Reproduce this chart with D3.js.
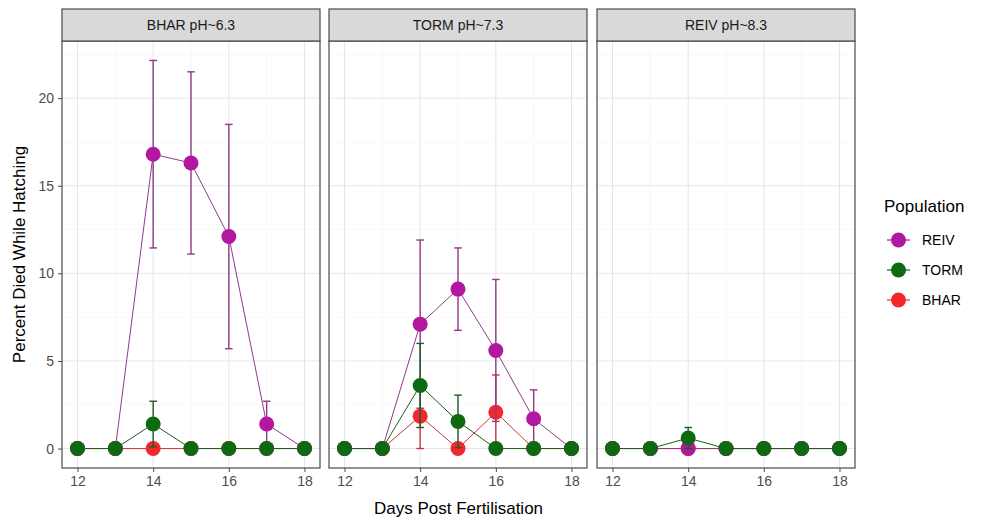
<!DOCTYPE html>
<html>
<head>
<meta charset="utf-8">
<script src="https://cdn.jsdelivr.net/npm/d3@7"></script>
<style>
  body { margin: 0; background: #fff; }
  text { font-family: "Liberation Sans", Arial, sans-serif; }
</style>
</head>
<body>
<div id="chart"></div>
<script>
let width = 983;
let height = 520;

// Facets and populations
let panels = ["BHAR pH~6.3", "TORM pH~7.3", "REIV pH~8.3"];
let populations = ["REIV", "TORM", "BHAR"];
let drawOrder = ["BHAR", "REIV", "TORM"];
let days = [12, 13, 14, 15, 16, 17, 18];

// Mean percent died while hatching, per panel, per population
let reivMean = [
    [0, 0, 16.8, 16.3, 12.1, 1.4, 0],
    [0, 0, 7.1, 9.1, 5.6, 1.7, 0],
    [0, 0, 0, 0, 0, 0, 0]
];
let reivErr = [
    [0, 0, 5.35, 5.2, 6.4, 1.3, 0],
    [0, 0, 4.8, 2.35, 4.05, 1.65, 0],
    [0, 0, 0, 0, 0, 0, 0]
];
let tormMean = [
    [0, 0, 1.4, 0, 0, 0, 0],
    [0, 0, 3.6, 1.55, 0, 0, 0],
    [0, 0, 0.6, 0, 0, 0, 0]
];
let tormErr = [
    [0, 0, 1.3, 0, 0, 0, 0],
    [0, 0, 2.4, 1.5, 0, 0, 0],
    [0, 0, 0.6, 0, 0, 0, 0]
];
let bharMean = [
    [0, 0, 0, 0, 0, 0, 0],
    [0, 0, 1.85, 0, 2.07, 0, 0],
    [0, 0, 0, 0, 0, 0, 0]
];
let bharErr = [
    [0, 0, 0, 0, 0, 0, 0],
    [0, 0, 1.85, 0, 2.13, 0, 0],
    [0, 0, 0, 0, 0, 0, 0]
];

let xTicks = [12, 14, 16, 18];
let xMinor = [13, 15, 17];
let yTicks = [0, 5, 10, 15, 20];
let yMinor = [2.5, 7.5, 12.5, 17.5, 22.5];

let colors = d3.scaleOrdinal()
    .domain(populations)
    .range(["#b3169f", "#0d6a12", "#f2282e"]);
let errColors = d3.scaleOrdinal()
    .domain(populations)
    .range(["#8f3a88", "#1f5a22", "#c8383c"]);

let series = {
    REIV: {mean: reivMean, err: reivErr},
    TORM: {mean: tormMean, err: tormErr},
    BHAR: {mean: bharMean, err: bharErr}
};

let plotTop = 41, plotBottom = 468, stripTop = 9;
let panelLeft = [62, 329, 597];
let panelWidth = 258;

let svg = d3.select("#chart").append("svg")
    .attr("width", width)
    .attr("height", height);

let y = d3.scaleLinear().domain([-1.11, 23.26]).range([plotBottom, plotTop]);

panels.forEach(function(title, p) {
    let x = d3.scaleLinear()
        .domain([11.59, 18.41])
        .range([panelLeft[p], panelLeft[p] + panelWidth]);

    let g = svg.append("g");

    // grid
    g.selectAll(".ymin").data(yMinor).enter().append("line")
        .attr("x1", x.range()[0]).attr("x2", x.range()[1])
        .attr("y1", d => y(d)).attr("y2", d => y(d))
        .attr("stroke", "#f3f3f3").attr("stroke-width", 0.6);
    g.selectAll(".xmin").data(xMinor).enter().append("line")
        .attr("y1", plotTop).attr("y2", plotBottom)
        .attr("x1", d => x(d)).attr("x2", d => x(d))
        .attr("stroke", "#f3f3f3").attr("stroke-width", 0.6);
    g.selectAll(".ymaj").data(yTicks).enter().append("line")
        .attr("x1", x.range()[0]).attr("x2", x.range()[1])
        .attr("y1", d => y(d)).attr("y2", d => y(d))
        .attr("stroke", "#e6e6e6").attr("stroke-width", 1);
    g.selectAll(".xmaj").data(xTicks).enter().append("line")
        .attr("y1", plotTop).attr("y2", plotBottom)
        .attr("x1", d => x(d)).attr("x2", d => x(d))
        .attr("stroke", "#e6e6e6").attr("stroke-width", 1);

    // series: lines, error bars, points
    drawOrder.forEach(function(pop) {
        let rows = days.map((d, i) => ({
            day: d,
            v: series[pop].mean[p][i],
            e: series[pop].err[p][i]
        }));
        let line = d3.line().x(d => x(d.day)).y(d => y(d.v));
        g.append("path")
            .datum(rows)
            .attr("d", line)
            .attr("fill", "none")
            .attr("stroke", errColors(pop))
            .attr("stroke-width", 1);

        let eb = g.selectAll(null).data(rows.filter(d => d.e > 0)).enter().append("g")
            .attr("stroke", errColors(pop)).attr("stroke-width", 1.4);
        eb.append("line")
            .attr("x1", d => x(d.day)).attr("x2", d => x(d.day))
            .attr("y1", d => y(d.v - d.e)).attr("y2", d => y(d.v + d.e));
        eb.append("line")
            .attr("x1", d => x(d.day - 0.1)).attr("x2", d => x(d.day + 0.1))
            .attr("y1", d => y(d.v + d.e)).attr("y2", d => y(d.v + d.e));
        eb.append("line")
            .attr("x1", d => x(d.day - 0.1)).attr("x2", d => x(d.day + 0.1))
            .attr("y1", d => y(d.v - d.e)).attr("y2", d => y(d.v - d.e));

        g.selectAll(null).data(rows).enter().append("circle")
            .attr("cx", d => x(d.day))
            .attr("cy", d => y(d.v))
            .attr("r", 7.5)
            .attr("fill", colors(pop));
    });

    // panel border
    g.append("rect")
        .attr("x", x.range()[0]).attr("y", plotTop)
        .attr("width", panelWidth).attr("height", plotBottom - plotTop)
        .attr("fill", "none").attr("stroke", "#4a4a4a").attr("stroke-width", 1.2);

    // strip
    g.append("rect")
        .attr("x", x.range()[0]).attr("y", stripTop)
        .attr("width", panelWidth).attr("height", plotTop - stripTop)
        .attr("fill", "#d9d9d9").attr("stroke", "#4a4a4a").attr("stroke-width", 1.2);
    g.append("text")
        .attr("x", x.range()[0] + panelWidth / 2)
        .attr("y", (stripTop + plotTop) / 2 + 5)
        .attr("text-anchor", "middle")
        .attr("font-size", 14)
        .attr("fill", "#1a1a1a")
        .text(title);

    // x axis
    let xAxis = d3.axisBottom(x).tickValues(xTicks).tickFormat(d3.format("d"))
        .tickSize(4).tickPadding(4).tickSizeOuter(0);
    let ax = g.append("g")
        .attr("transform", "translate(0," + plotBottom + ")")
        .call(xAxis);
    ax.select(".domain").remove();
    ax.selectAll("line").attr("stroke", "#4a4a4a");
    ax.selectAll("text").attr("font-size", 14).attr("fill", "#4d4d4d")
        .attr("font-family", "Liberation Sans, Arial, sans-serif");

    if (p === 0) {
        let yAxis = d3.axisLeft(y).tickValues(yTicks).tickSize(4).tickPadding(4).tickSizeOuter(0);
        let ay = g.append("g")
            .attr("transform", "translate(" + panelLeft[0] + ",0)")
            .call(yAxis);
        ay.select(".domain").remove();
        ay.selectAll("line").attr("stroke", "#4a4a4a");
        ay.selectAll("text").attr("font-size", 14).attr("fill", "#4d4d4d")
            .attr("font-family", "Liberation Sans, Arial, sans-serif");
    }
});

// axis titles
svg.append("text")
    .attr("x", (panelLeft[0] + panelLeft[2] + panelWidth) / 2)
    .attr("y", 514)
    .attr("text-anchor", "middle")
    .attr("font-size", 17)
    .attr("fill", "#000")
    .text("Days Post Fertilisation");

svg.append("text")
    .attr("transform", "translate(25," + ((plotTop + plotBottom) / 2) + ") rotate(-90)")
    .attr("text-anchor", "middle")
    .attr("font-size", 17)
    .attr("fill", "#000")
    .text("Percent Died While Hatching");

// legend
let legend = svg.append("g").attr("transform", "translate(884,0)");
legend.append("text")
    .attr("x", 0).attr("y", 212)
    .attr("font-size", 17)
    .attr("fill", "#000")
    .text("Population");
populations.forEach(function(pop, i) {
    let cy = 240 + i * 30;
    legend.append("line")
        .attr("x1", 3).attr("x2", 26).attr("y1", cy).attr("y2", cy)
        .attr("stroke", colors(pop)).attr("stroke-width", 1.2);
    legend.append("circle")
        .attr("cx", 14.5).attr("cy", cy).attr("r", 7.5)
        .attr("fill", colors(pop));
    legend.append("text")
        .attr("x", 38).attr("y", cy + 5)
        .attr("font-size", 14)
        .attr("fill", "#000")
        .text(pop);
});
</script>
</body>
</html>
